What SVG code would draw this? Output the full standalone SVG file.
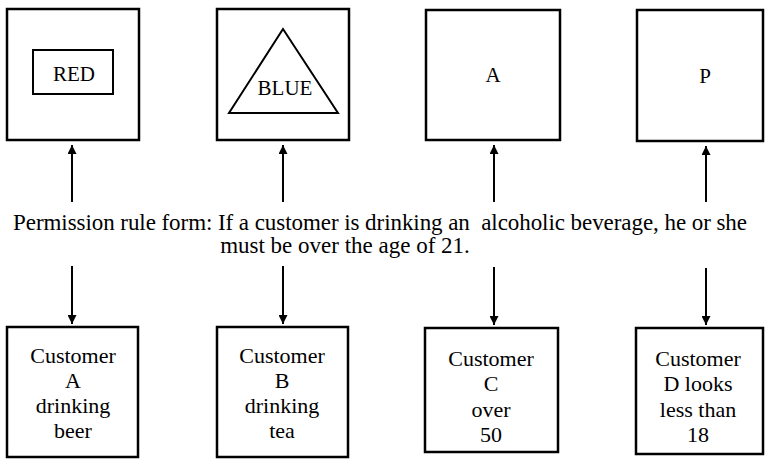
<svg xmlns="http://www.w3.org/2000/svg" width="765" height="462" viewBox="0 0 765 462">
<defs>
<marker id="ah" viewBox="0 0 10 10" refX="10" refY="5" markerWidth="4.5" markerHeight="4.5" markerUnits="strokeWidth" orient="auto">
<path d="M0,0 L10,5 L0,10 z" fill="#000"/>
</marker>
<style>
.box{fill:#fff;stroke:#000;stroke-width:2.5}
.shape{fill:none;stroke:#000;stroke-width:2}
.conn{stroke:#000;stroke-width:2;fill:none;marker-end:url(#ah)}
text{font-family:"Liberation Serif","Times New Roman",serif;fill:#000;text-anchor:middle}
.lbl{font-size:21px}
.cust{font-size:22px}
.rule{font-size:23px;white-space:pre}
</style>
</defs>
<rect width="765" height="462" fill="#fff"/>
<g id="card-red">
<rect class="box" x="7" y="9" width="132" height="131"/>
<rect class="shape" x="33" y="50" width="80" height="44"/>
<text class="lbl" x="74" y="81">RED</text>
</g>
<g id="card-blue">
<rect class="box" x="217" y="9" width="132" height="131"/>
<polygon class="shape" points="283,29 229,113 338,113"/>
<text class="lbl" x="285" y="95">BLUE</text>
</g>
<g id="card-a">
<rect class="box" x="426" y="10" width="134" height="130"/>
<text class="lbl" x="493" y="82">A</text>
</g>
<g id="card-p">
<rect class="box" x="637" y="10" width="126" height="131"/>
<text class="lbl" x="705" y="83">P</text>
</g>
<g id="rule">
<text class="rule" x="380" y="230" textLength="734" lengthAdjust="spacing" xml:space="preserve">Permission rule form: If a customer is drinking an  alcoholic beverage, he or she</text>
<text class="rule" x="345" y="253">must be over the age of 21.</text>
</g>
<g id="customer-a">
<rect class="box" x="7" y="327" width="131" height="130"/>
<text class="cust" x="73" y="363">Customer</text>
<text class="cust" x="73" y="388">A</text>
<text class="cust" x="73" y="413">drinking</text>
<text class="cust" x="73" y="438">beer</text>
</g>
<g id="customer-b">
<rect class="box" x="217" y="327" width="131" height="130"/>
<text class="cust" x="282" y="363">Customer</text>
<text class="cust" x="282" y="388">B</text>
<text class="cust" x="282" y="413">drinking</text>
<text class="cust" x="282" y="438">tea</text>
</g>
<g id="customer-c">
<rect class="box" x="425" y="328" width="133" height="124"/>
<text class="cust" x="491" y="366">Customer</text>
<text class="cust" x="491" y="391">C</text>
<text class="cust" x="491" y="417">over</text>
<text class="cust" x="491" y="442">50</text>
</g>
<g id="customer-d">
<rect class="box" x="636" y="328" width="127" height="126"/>
<text class="cust" x="698" y="366">Customer</text>
<text class="cust" x="698" y="391">D looks</text>
<text class="cust" x="698" y="417">less than</text>
<text class="cust" x="698" y="442">18</text>
</g>
<g id="connectors">
<line class="conn" x1="72" y1="202" x2="72" y2="145"/>
<line class="conn" x1="283" y1="202" x2="283" y2="145"/>
<line class="conn" x1="494" y1="202" x2="494" y2="145"/>
<line class="conn" x1="706" y1="202" x2="706" y2="146"/>
<line class="conn" x1="72" y1="266" x2="72" y2="324"/>
<line class="conn" x1="283" y1="266" x2="283" y2="324"/>
<line class="conn" x1="494" y1="267" x2="494" y2="325"/>
<line class="conn" x1="706" y1="268" x2="706" y2="325"/>
</g>
</svg>
